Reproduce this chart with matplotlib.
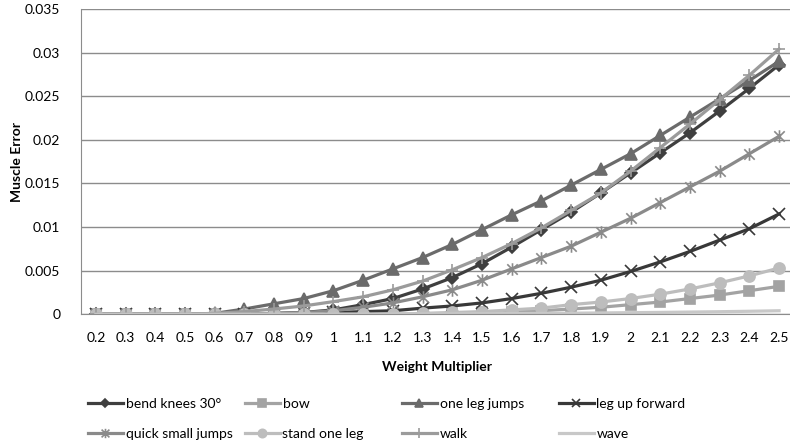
import numpy as np
import matplotlib.pyplot as plt
from matplotlib.path import Path

plt.rcParams['font.family'] = ['Lato', 'DejaVu Sans']

mnoznik = ['0.2', '0.3', '0.4', '0.5', '0.6', '0.7', '0.8', '0.9', '1', '1.1', '1.2', '1.3',
           '1.4', '1.5', '1.6', '1.7', '1.8', '1.9', '2', '2.1', '2.2', '2.3', '2.4', '2.5']

bend_knees = [0, 0, 0, 0, 0, 0, 0.0001, 0.0002, 0.0005, 0.0011, 0.0018, 0.0029,
              0.0042, 0.0058, 0.0077, 0.0097, 0.0117, 0.0139, 0.0162, 0.0185, 0.0208, 0.0233, 0.0259, 0.0286]
bow = [0, 0, 0, 0, 0, 0, 0, 0, 0, 0, 0, 0,
       0.0001, 0.0002, 0.0003, 0.0004, 0.0006, 0.0008, 0.0011, 0.0014, 0.0018, 0.0022, 0.0027, 0.0032]
one_leg_jumps = [0, 0, 0, 0, 0.0001, 0.0006, 0.0012, 0.0018, 0.0027, 0.0039, 0.0052, 0.0065,
                 0.0080, 0.0097, 0.0114, 0.0130, 0.0148, 0.0166, 0.0184, 0.0205, 0.0226, 0.0247, 0.0268, 0.0290]
leg_up_forward = [0, 0, 0, 0, 0, 0, 0, 0.0001, 0.0002, 0.0003, 0.0004, 0.0007,
                  0.00095, 0.0013, 0.0018, 0.0024, 0.0031, 0.0039, 0.0049, 0.0060, 0.0072, 0.0085, 0.0098, 0.0115]
quick_small_jumps = [0, 0, 0, 0, 0, 0, 0.0001, 0.0002, 0.0004, 0.0008, 0.0013, 0.0020,
                     0.0028, 0.0039, 0.0052, 0.0065, 0.0078, 0.0094, 0.0110, 0.0128, 0.0146, 0.0164, 0.0184, 0.0204]
stand_one_leg = [0, 0, 0, 0, 0, 0, 0, 0, 0, 0, 0, 0.0001,
                 0.0002, 0.0003, 0.0005, 0.0007, 0.0011, 0.0014, 0.0018, 0.0023, 0.0029, 0.0036, 0.0044, 0.0053]
walk = [0, 0, 0, 0, 0.0001, 0.0003, 0.0006, 0.00095, 0.00145, 0.0020, 0.0028, 0.0038,
        0.0051, 0.0065, 0.0081, 0.0099, 0.0119, 0.0139, 0.0164, 0.0191, 0.0218, 0.0246, 0.0274, 0.0304]
wave = [0, 0, 0, 0, 0, 0, 0, 0, 0, 0.00001, 0.00002, 0.00003,
        0.00004, 0.00006, 0.00008, 0.0001, 0.00012, 0.00015, 0.00018, 0.00021, 0.00025, 0.00029, 0.00034, 0.0004]

# gwiazdka jak w Excelu: x z pionowa kreska
gwiazdka = Path([(-1, -1), (1, 1), (-1, 1), (1, -1), (0, -1.2), (0, 1.2)],
                [Path.MOVETO, Path.LINETO, Path.MOVETO, Path.LINETO, Path.MOVETO, Path.LINETO])

serie = [
    ('bend knees 30°', bend_knees, '#3f3f3f', 'D', 6),
    ('bow', bow, '#a3a3a3', 's', 7),
    ('one leg jumps', one_leg_jumps, '#6b6b6b', '^', 8),
    ('leg up forward', leg_up_forward, '#383838', 'x', 8),
    ('quick small jumps', quick_small_jumps, '#8a8a8a', gwiazdka, 9),
    ('stand one leg', stand_one_leg, '#bdbdbd', 'o', 8),
    ('walk', walk, '#9b9b9b', '+', 9),
    ('wave', wave, '#c8c8c8', None, 0),
]

fig = plt.figure(figsize=(7.9, 4.47), dpi=100)
ax = fig.add_axes([0.1025, 0.297, 0.9025, 0.683])

x = np.arange(len(mnoznik))
linie = []
for nazwa, y, kolor, znak, rozmiar in serie:
    l, = ax.plot(x, y, color=kolor, lw=2.3, marker=znak, markersize=rozmiar,
                 markeredgewidth=1.2, markeredgecolor=kolor, label=nazwa)
    linie.append(l)

ax.set_xlim(-0.5, len(mnoznik) - 0.5)
ax.set_ylim(0, 0.035)
ax.set_yticks(np.arange(0, 0.0351, 0.005))
ax.set_yticklabels(['0', '0.005', '0.01', '0.015', '0.02', '0.025', '0.03', '0.035'])
ax.set_xticks(x)
ax.set_xticklabels(mnoznik)
ax.tick_params(length=0, labelsize=10, colors='black')
ax.tick_params(axis='x', pad=13)
ax.tick_params(axis='y', pad=15)
ax.grid(axis='y', color='#8c8c8c', lw=1)
ax.set_axisbelow(True)
for s in ['top', 'right']:
    ax.spines[s].set_visible(False)
ax.spines['left'].set_color('#8c8c8c')
ax.spines['bottom'].set_color('#8c8c8c')

ax.set_xlabel('Weight Multiplier', fontsize=10, fontweight='bold', labelpad=12)
ax.set_ylabel('Muscle Error', fontsize=10, fontweight='bold')
ax.yaxis.set_label_coords(-0.081, 0.5)

# legenda w czterech kolumnach o stałej szerokości
kolumny = [(0, 4), (1, 5), (2, 6), (3, 7)]
for k, (a, b) in enumerate(kolumny):
    leg = fig.legend([linie[a], linie[b]], [serie[a][0], serie[b][0]],
                     loc='upper left', bbox_to_anchor=((88 + k * 157) / 790, 1 - 398 / 447),
                     frameon=False, fontsize=10, handlelength=2.5, handletextpad=0.2,
                     labelspacing=1.3, borderaxespad=0, borderpad=0, markerscale=0.75)

plt.savefig('out.png', dpi=100)
